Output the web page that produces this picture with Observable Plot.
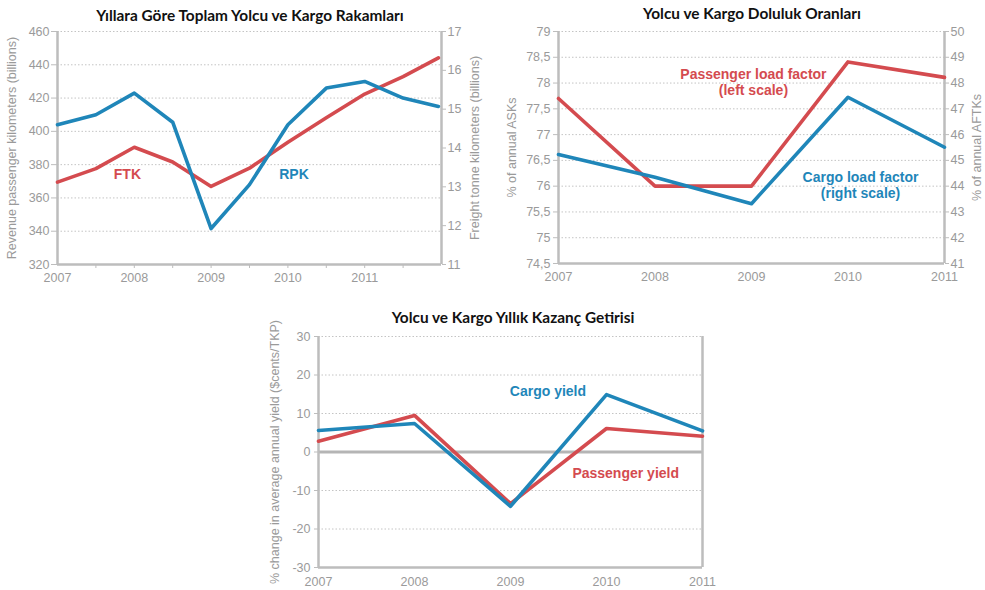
<!DOCTYPE html>
<html><head><meta charset="utf-8">
<script src="https://cdn.jsdelivr.net/npm/d3@7"></script>
<script src="https://cdn.jsdelivr.net/npm/@observablehq/plot@0.6"></script>
<style>
body{margin:0;background:#fff;}
#wrap{position:relative;width:985px;height:590px;overflow:hidden;background:#fff;}
.chart{position:absolute;}
.title{position:absolute;font-family:Lato,'Open Sans',sans-serif;font-weight:700;font-size:15.4px;color:#111;transform:translate(-50%,-50%);white-space:nowrap;}
</style></head><body><div id="wrap"></div>
<script>
// ---------- data ----------
const titles = ["Yıllara Göre Toplam Yolcu ve Kargo Rakamları", "Yolcu ve Kargo Doluluk Oranları", "Yolcu ve Kargo Yıllık Kazanç Getirisi"];

// Chart 1 (half-year points)
const years1 = [2007, 2007.5, 2008, 2008.5, 2009, 2009.5, 2010, 2010.5, 2011, 2011.5, 2011.96];
const rpk = [404, 410, 423, 405.5, 341.6, 368, 404, 426, 430, 420, 415];
const ftk = [13.12, 13.47, 14.02, 13.64, 13.01, 13.48, 14.15, 14.78, 15.39, 15.84, 16.32];
const ticksLeft1 = [320, 340, 360, 380, 400, 420, 440, 460];
const ticksRight1 = [11, 12, 13, 14, 15, 16, 17];
const labels1 = [{x: 2007.91, y: 374, t: "FTK", s: "ftk"}, {x: 2010.08, y: 374, t: "RPK", s: "rpk"}];

// Chart 2
const years = [2007, 2008, 2009, 2010, 2011];
const paxLF = [77.7, 76.0, 76.0, 78.41, 78.11];
const cargoLF = [45.23, 44.35, 43.32, 47.45, 45.51];
const ticksLeft2 = [74.5, 75, 75.5, 76, 76.5, 77, 77.5, 78, 78.5, 79];
const ticksRight2 = [41, 42, 43, 44, 45, 46, 47, 48, 49, 50];
const labels2 = [{x: 2009.02, y: 78.02, t: "Passenger load factor\n(left scale)", s: "pax"}, {x: 2010.13, y: 76.02, t: "Cargo load factor\n(right scale)", s: "cargo"}];

// Chart 3
const cargoYield = [5.6, 7.4, -14.1, 14.9, 5.5];
const paxYield = [2.8, 9.5, -13.4, 6.1, 4.1];
const ticks3 = [-30, -20, -10, 0, 10, 20, 30];
const labels3 = [{x: 2009.39, y: 15.6, t: "Cargo yield", s: "cargo"}, {x: 2010.2, y: -5.5, t: "Passenger yield", s: "pax"}];

// ---------- style ----------
const RED = "#d44b4f", BLUE = "#1f86b9", AX = "#bdbdbd", TXT = "#9a9a9a", GRID = "#c4c4c4";
const FONT = "'Liberation Sans', Arial, sans-serif";
const wrap = document.getElementById("wrap");
function place(el, left, top) { el.classList.add("chart"); el.style.left = left + "px"; el.style.top = top + "px"; wrap.appendChild(el); }
function title(t, x, y) { const d = document.createElement("div"); d.className = "title"; d.textContent = t; d.style.left = x + "px"; d.style.top = y + "px"; wrap.appendChild(d); }
const baseStyle = {fontFamily: FONT, fontSize: "12.5px", color: TXT, background: "transparent", overflow: "visible"};
const comma = d => String(d).replace(".", ",");

// ---------- chart 1 ----------
const f1 = d3.scaleLinear([11, 17], [320, 460]);
const d1 = years1.map((y, i) => ({year: y, rpk: rpk[i], ftk: f1(ftk[i])}));
const c1 = Plot.plot({
  width: 490, height: 290, marginLeft: 57, marginRight: 49, marginTop: 31, marginBottom: 26,
  style: baseStyle,
  x: {domain: [2007, 2012]},
  y: {domain: [320, 460]},
  marks: [
    Plot.gridY(ticksLeft1.slice(1), {stroke: GRID, strokeOpacity: 1, strokeDasharray: "1.5,2"}),
    Plot.axisY(ticksLeft1, {anchor: "left", tickSize: 6, tickPadding: 2, stroke: AX, fill: TXT, label: "Revenue passenger kilometers (billions)", labelAnchor: "center", labelArrow: "none", labelOffset: 50}),
    Plot.axisY(ticksRight1.map(f1), {anchor: "right", tickSize: 4, tickPadding: 2, stroke: AX, fill: TXT, tickFormat: d => Math.round(f1.invert(d)), label: "Freight tonne kilometers (billions)", labelAnchor: "center", labelArrow: "none", labelOffset: 37}),
    Plot.axisX(d3.range(2007.5, 2012, 0.5), {tickSize: 4, tickPadding: 5, stroke: AX, fill: TXT, tickFormat: d => Number.isInteger(d) ? String(d) : "", label: null}),
    Plot.axisX([2007], {tickSize: 0, tickPadding: 9, fill: TXT, tickFormat: d => String(d), label: null}),
    Plot.ruleY([320], {stroke: AX, strokeWidth: 2.5}),
    Plot.ruleX([2007, 2012], {stroke: AX, strokeWidth: 2.5}),
    Plot.line(d1, {x: "year", y: "ftk", stroke: RED, strokeWidth: 3.6}),
    Plot.line(d1, {x: "year", y: "rpk", stroke: BLUE, strokeWidth: 3.6}),
    Plot.text(labels1, {x: "x", y: "y", text: "t", fill: d => d.s === "ftk" ? RED : BLUE, fontWeight: "bold", fontSize: 14})
  ]
});
place(c1, 0, 0);
title(titles[0], 250, 15);

// ---------- chart 2 ----------
const f2 = d3.scaleLinear([41, 50], [74.5, 79]);
const d2 = years.map((y, i) => ({year: y, pax: paxLF[i], cargo: f2(cargoLF[i])}));
const c2 = Plot.plot({
  width: 495, height: 290, marginLeft: 68, marginRight: 41, marginTop: 31, marginBottom: 27,
  style: baseStyle,
  x: {domain: [2007, 2011]},
  y: {domain: [74.5, 79]},
  marks: [
    Plot.gridY(ticksLeft2.slice(1), {stroke: GRID, strokeOpacity: 1, strokeDasharray: "1.5,2"}),
    Plot.axisY(ticksLeft2, {anchor: "left", tickSize: 5, tickPadding: 3, stroke: AX, fill: TXT, tickFormat: comma, label: "% of annual ASKs", labelAnchor: "center", labelArrow: "none", labelOffset: 51}),
    Plot.axisY(ticksRight2.map(f2), {anchor: "right", tickSize: 4, tickPadding: 2, stroke: AX, fill: TXT, tickFormat: d => Math.round(f2.invert(d)), label: "% of annual AFTKs", labelAnchor: "center", labelArrow: "none", labelOffset: 36}),
    Plot.axisX(years, {tickSize: 0, tickPadding: 8.5, fill: TXT, tickFormat: d => String(d), label: null}),
    Plot.ruleY([74.5], {stroke: AX, strokeWidth: 2.5}),
    Plot.ruleX([2007, 2011], {stroke: AX, strokeWidth: 2.5}),
    Plot.line(d2, {x: "year", y: "pax", stroke: RED, strokeWidth: 3.6}),
    Plot.line(d2, {x: "year", y: "cargo", stroke: BLUE, strokeWidth: 3.6}),
    Plot.text(labels2, {x: "x", y: "y", text: "t", fill: d => d.s === "pax" ? RED : BLUE, fontWeight: "bold", fontSize: 14, lineHeight: 1.15})
  ]
});
place(c2, 490, 0);
title(titles[1], 752, 13);

// ---------- chart 3 ----------
const d3data = years.map((y, i) => ({year: y, cargo: cargoYield[i], pax: paxYield[i]}));
const c3 = Plot.plot({
  width: 480, height: 290, marginLeft: 68, marginRight: 28, marginTop: 36, marginBottom: 23,
  style: baseStyle,
  x: {domain: [2007, 2011]},
  y: {domain: [-30, 30]},
  marks: [
    Plot.gridY(ticks3.filter(d => d !== 0 && d !== -30), {stroke: GRID, strokeOpacity: 1, strokeDasharray: "1.5,2"}),
    Plot.axisY(ticks3, {anchor: "left", tickSize: 4, tickPadding: 4, stroke: AX, fill: TXT, tickFormat: d => String(d), label: "% change in average annual yield ($cents/TKP)", labelAnchor: "center", labelArrow: "none", labelOffset: 48}),
    Plot.axisX(years, {tickSize: 0, tickPadding: 10, fill: TXT, tickFormat: d => String(d), label: null}),
    Plot.ruleY([-30], {stroke: AX, strokeWidth: 2.5}),
    Plot.ruleY([0], {stroke: "#b5b5b5", strokeWidth: 3}),
    Plot.ruleX([2007, 2011], {stroke: AX, strokeWidth: 2.5}),
    Plot.line(d3data, {x: "year", y: "pax", stroke: RED, strokeWidth: 3.6}),
    Plot.line(d3data, {x: "year", y: "cargo", stroke: BLUE, strokeWidth: 3.6}),
    Plot.text(labels3, {x: "x", y: "y", text: "t", fill: d => d.s === "pax" ? RED : BLUE, fontWeight: "bold", fontSize: 14})
  ]
});
place(c3, 250, 300);
title(titles[2], 513, 317);
</script></body></html>
